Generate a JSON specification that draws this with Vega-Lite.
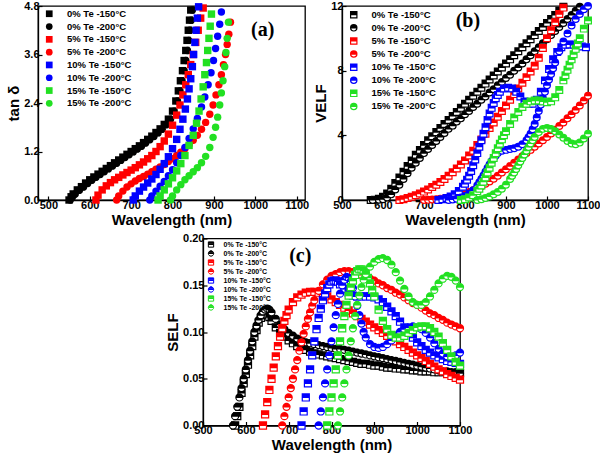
{
"$schema":"https://vega.github.io/schema/vega-lite/v6.json",
"autosize":{"type":"none"},
"padding":{"left":38,"top":6,"right":562,"bottom":448},
"background":"white",
"config":{
 "font":"Liberation Sans",
 "view":{"stroke":"#000","strokeWidth":1.3},
 "axis":{"grid":false,"labelFont":"Liberation Sans","labelFontWeight":"bold","labelFontSize":11,"labelColor":"#000","labelFlush":false,"labelOverlap":false,"titleFont":"Liberation Sans","titleFontWeight":"bold","titleFontSize":15,"titleColor":"#000","domainColor":"#000","domainWidth":1.3,"tickColor":"#000","tickWidth":1.2,"tickSize":-4,"labelPadding":3,"titlePadding":2},
 "legend":{"labelFont":"Liberation Sans","labelFontWeight":"bold","labelColor":"#000","padding":0,"orient":"none"}
},
"datasets":{
"a":[
{"s":0,"x":550,"y":0},{"s":0,"x":555,"y":0.08},{"s":0,"x":560,"y":0.15},{"s":0,"x":570,"y":0.25},{"s":0,"x":580,"y":0.33},{"s":0,"x":590,"y":0.42},{"s":0,"x":600,"y":0.5},{"s":0,"x":610,"y":0.57},{"s":0,"x":620,"y":0.64},{"s":0,"x":630,"y":0.71},{"s":0,"x":640,"y":0.78},{"s":0,"x":650,"y":0.85},{"s":0,"x":660,"y":0.92},{"s":0,"x":670,"y":0.99},{"s":0,"x":680,"y":1.06},{"s":0,"x":690,"y":1.13},{"s":0,"x":700,"y":1.2},{"s":0,"x":710,"y":1.27},{"s":0,"x":720,"y":1.34},{"s":0,"x":730,"y":1.42},{"s":0,"x":740,"y":1.5},{"s":0,"x":750,"y":1.58},{"s":0,"x":760,"y":1.67},{"s":0,"x":770,"y":1.76},{"s":0,"x":780,"y":1.87},{"s":0,"x":790,"y":2.0},{"s":0,"x":800,"y":2.2},{"s":0,"x":808,"y":2.45},{"s":0,"x":814,"y":2.7},{"s":0,"x":819,"y":2.95},{"s":0,"x":824,"y":3.2},{"s":0,"x":828,"y":3.45},{"s":0,"x":832,"y":3.7},{"s":0,"x":835,"y":3.95},{"s":0,"x":838,"y":4.2},{"s":0,"x":841,"y":4.45},{"s":0,"x":844,"y":4.7},
{"s":1,"x":553,"y":0},{"s":1,"x":558,"y":0.07},{"s":1,"x":565,"y":0.15},{"s":1,"x":575,"y":0.24},{"s":1,"x":585,"y":0.32},{"s":1,"x":595,"y":0.41},{"s":1,"x":605,"y":0.49},{"s":1,"x":615,"y":0.56},{"s":1,"x":625,"y":0.63},{"s":1,"x":635,"y":0.7},{"s":1,"x":645,"y":0.77},{"s":1,"x":655,"y":0.84},{"s":1,"x":665,"y":0.91},{"s":1,"x":675,"y":0.98},{"s":1,"x":685,"y":1.05},{"s":1,"x":695,"y":1.12},{"s":1,"x":705,"y":1.19},{"s":1,"x":715,"y":1.26},{"s":1,"x":725,"y":1.33},{"s":1,"x":735,"y":1.41},{"s":1,"x":745,"y":1.49},{"s":1,"x":755,"y":1.57},{"s":1,"x":765,"y":1.66},{"s":1,"x":775,"y":1.75},{"s":1,"x":785,"y":1.86},{"s":1,"x":795,"y":2.0},{"s":1,"x":804,"y":2.2},{"s":1,"x":812,"y":2.45},{"s":1,"x":818,"y":2.7},{"s":1,"x":823,"y":2.95},{"s":1,"x":828,"y":3.2},{"s":1,"x":832,"y":3.45},{"s":1,"x":836,"y":3.7},{"s":1,"x":839,"y":3.95},{"s":1,"x":842,"y":4.2},{"s":1,"x":845,"y":4.45},{"s":1,"x":848,"y":4.7},
{"s":2,"x":615,"y":0},{"s":2,"x":620,"y":0.12},{"s":2,"x":630,"y":0.25},{"s":2,"x":640,"y":0.35},{"s":2,"x":650,"y":0.43},{"s":2,"x":660,"y":0.5},{"s":2,"x":670,"y":0.56},{"s":2,"x":680,"y":0.62},{"s":2,"x":690,"y":0.68},{"s":2,"x":700,"y":0.74},{"s":2,"x":710,"y":0.8},{"s":2,"x":720,"y":0.87},{"s":2,"x":730,"y":0.94},{"s":2,"x":740,"y":1.02},{"s":2,"x":750,"y":1.1},{"s":2,"x":760,"y":1.2},{"s":2,"x":770,"y":1.32},{"s":2,"x":780,"y":1.46},{"s":2,"x":790,"y":1.63},{"s":2,"x":800,"y":1.85},{"s":2,"x":810,"y":2.1},{"s":2,"x":818,"y":2.35},{"s":2,"x":825,"y":2.6},{"s":2,"x":832,"y":2.85},{"s":2,"x":838,"y":3.1},{"s":2,"x":844,"y":3.35},{"s":2,"x":850,"y":3.6},{"s":2,"x":856,"y":3.9},{"s":2,"x":862,"y":4.2},{"s":2,"x":868,"y":4.5},{"s":2,"x":874,"y":4.75},
{"s":3,"x":665,"y":0},{"s":3,"x":670,"y":0.1},{"s":3,"x":680,"y":0.22},{"s":3,"x":690,"y":0.32},{"s":3,"x":700,"y":0.4},{"s":3,"x":710,"y":0.47},{"s":3,"x":720,"y":0.53},{"s":3,"x":730,"y":0.58},{"s":3,"x":740,"y":0.64},{"s":3,"x":750,"y":0.7},{"s":3,"x":760,"y":0.76},{"s":3,"x":770,"y":0.82},{"s":3,"x":780,"y":0.88},{"s":3,"x":790,"y":0.95},{"s":3,"x":800,"y":1.02},{"s":3,"x":810,"y":1.1},{"s":3,"x":820,"y":1.18},{"s":3,"x":830,"y":1.27},{"s":3,"x":840,"y":1.37},{"s":3,"x":850,"y":1.48},{"s":3,"x":860,"y":1.6},{"s":3,"x":870,"y":1.75},{"s":3,"x":880,"y":1.92},{"s":3,"x":890,"y":2.12},{"s":3,"x":898,"y":2.35},{"s":3,"x":905,"y":2.6},{"s":3,"x":912,"y":2.85},{"s":3,"x":918,"y":3.1},{"s":3,"x":923,"y":3.35},{"s":3,"x":928,"y":3.6},{"s":3,"x":932,"y":3.85},{"s":3,"x":936,"y":4.1},{"s":3,"x":940,"y":4.4},
{"s":4,"x":705,"y":0},{"s":4,"x":710,"y":0.1},{"s":4,"x":720,"y":0.22},{"s":4,"x":730,"y":0.32},{"s":4,"x":740,"y":0.42},{"s":4,"x":750,"y":0.52},{"s":4,"x":760,"y":0.63},{"s":4,"x":770,"y":0.76},{"s":4,"x":780,"y":0.9},{"s":4,"x":790,"y":1.07},{"s":4,"x":800,"y":1.27},{"s":4,"x":810,"y":1.5},{"s":4,"x":818,"y":1.75},{"s":4,"x":825,"y":2.0},{"s":4,"x":831,"y":2.25},{"s":4,"x":836,"y":2.5},{"s":4,"x":840,"y":2.75},{"s":4,"x":844,"y":3.0},{"s":4,"x":848,"y":3.3},{"s":4,"x":851,"y":3.6},{"s":4,"x":854,"y":3.9},{"s":4,"x":857,"y":4.2},{"s":4,"x":860,"y":4.5},{"s":4,"x":863,"y":4.78},
{"s":5,"x":745,"y":0},{"s":5,"x":750,"y":0.1},{"s":5,"x":760,"y":0.22},{"s":5,"x":770,"y":0.34},{"s":5,"x":780,"y":0.46},{"s":5,"x":790,"y":0.6},{"s":5,"x":800,"y":0.75},{"s":5,"x":810,"y":0.92},{"s":5,"x":820,"y":1.1},{"s":5,"x":830,"y":1.3},{"s":5,"x":840,"y":1.52},{"s":5,"x":850,"y":1.76},{"s":5,"x":860,"y":2.02},{"s":5,"x":870,"y":2.3},{"s":5,"x":878,"y":2.55},{"s":5,"x":886,"y":2.85},{"s":5,"x":893,"y":3.15},{"s":5,"x":899,"y":3.45},{"s":5,"x":904,"y":3.75},{"s":5,"x":909,"y":4.05},{"s":5,"x":914,"y":4.35},{"s":5,"x":918,"y":4.65},
{"s":6,"x":765,"y":0},{"s":6,"x":770,"y":0.1},{"s":6,"x":780,"y":0.25},{"s":6,"x":790,"y":0.4},{"s":6,"x":800,"y":0.55},{"s":6,"x":810,"y":0.72},{"s":6,"x":820,"y":0.9},{"s":6,"x":830,"y":1.1},{"s":6,"x":840,"y":1.35},{"s":6,"x":850,"y":1.6},{"s":6,"x":858,"y":1.9},{"s":6,"x":864,"y":2.2},{"s":6,"x":869,"y":2.5},{"s":6,"x":874,"y":2.8},{"s":6,"x":878,"y":3.1},{"s":6,"x":882,"y":3.4},{"s":6,"x":885,"y":3.7},{"s":6,"x":888,"y":4.0},{"s":6,"x":891,"y":4.3},{"s":6,"x":894,"y":4.6},
{"s":7,"x":795,"y":0},{"s":7,"x":800,"y":0.1},{"s":7,"x":810,"y":0.25},{"s":7,"x":820,"y":0.38},{"s":7,"x":830,"y":0.5},{"s":7,"x":840,"y":0.6},{"s":7,"x":850,"y":0.7},{"s":7,"x":860,"y":0.8},{"s":7,"x":870,"y":0.92},{"s":7,"x":880,"y":1.08},{"s":7,"x":890,"y":1.3},{"s":7,"x":898,"y":1.55},{"s":7,"x":904,"y":1.8},{"s":7,"x":909,"y":2.05},{"s":7,"x":914,"y":2.35},{"s":7,"x":918,"y":2.65},{"s":7,"x":922,"y":2.95},{"s":7,"x":926,"y":3.3},{"s":7,"x":929,"y":3.65},{"s":7,"x":932,"y":4.0},{"s":7,"x":935,"y":4.4}
],
"b":[
{"s":0,"x":570,"y":0},{"s":0,"x":580,"y":0.02},{"s":0,"x":590,"y":0.08},{"s":0,"x":600,"y":0.2},{"s":0,"x":610,"y":0.4},{"s":0,"x":620,"y":0.7},{"s":0,"x":630,"y":1.05},{"s":0,"x":640,"y":1.4},{"s":0,"x":650,"y":1.75},{"s":0,"x":660,"y":2.1},{"s":0,"x":670,"y":2.45},{"s":0,"x":680,"y":2.8},{"s":0,"x":690,"y":3.1},{"s":0,"x":700,"y":3.4},{"s":0,"x":710,"y":3.7},{"s":0,"x":720,"y":3.95},{"s":0,"x":730,"y":4.2},{"s":0,"x":740,"y":4.45},{"s":0,"x":750,"y":4.7},{"s":0,"x":760,"y":4.95},{"s":0,"x":770,"y":5.2},{"s":0,"x":780,"y":5.45},{"s":0,"x":790,"y":5.7},{"s":0,"x":800,"y":5.95},{"s":0,"x":810,"y":6.2},{"s":0,"x":820,"y":6.45},{"s":0,"x":830,"y":6.7},{"s":0,"x":840,"y":6.95},{"s":0,"x":850,"y":7.2},{"s":0,"x":860,"y":7.45},{"s":0,"x":870,"y":7.7},{"s":0,"x":880,"y":7.95},{"s":0,"x":890,"y":8.2},{"s":0,"x":900,"y":8.45},{"s":0,"x":910,"y":8.7},{"s":0,"x":920,"y":8.95},{"s":0,"x":930,"y":9.2},{"s":0,"x":940,"y":9.45},{"s":0,"x":950,"y":9.7},{"s":0,"x":960,"y":9.95},{"s":0,"x":970,"y":10.2},{"s":0,"x":980,"y":10.45},{"s":0,"x":990,"y":10.7},{"s":0,"x":1000,"y":10.95},{"s":0,"x":1010,"y":11.2},{"s":0,"x":1020,"y":11.45},{"s":0,"x":1030,"y":11.7},{"s":0,"x":1040,"y":11.95},
{"s":1,"x":575,"y":0},{"s":1,"x":590,"y":0.02},{"s":1,"x":600,"y":0.05},{"s":1,"x":610,"y":0.15},{"s":1,"x":620,"y":0.35},{"s":1,"x":630,"y":0.65},{"s":1,"x":640,"y":0.95},{"s":1,"x":650,"y":1.3},{"s":1,"x":660,"y":1.65},{"s":1,"x":670,"y":2.0},{"s":1,"x":680,"y":2.3},{"s":1,"x":690,"y":2.6},{"s":1,"x":700,"y":2.9},{"s":1,"x":710,"y":3.15},{"s":1,"x":720,"y":3.4},{"s":1,"x":730,"y":3.65},{"s":1,"x":740,"y":3.9},{"s":1,"x":750,"y":4.15},{"s":1,"x":760,"y":4.4},{"s":1,"x":770,"y":4.6},{"s":1,"x":780,"y":4.85},{"s":1,"x":790,"y":5.05},{"s":1,"x":800,"y":5.3},{"s":1,"x":810,"y":5.5},{"s":1,"x":820,"y":5.75},{"s":1,"x":830,"y":5.95},{"s":1,"x":840,"y":6.2},{"s":1,"x":850,"y":6.4},{"s":1,"x":860,"y":6.65},{"s":1,"x":870,"y":6.85},{"s":1,"x":880,"y":7.1},{"s":1,"x":890,"y":7.3},{"s":1,"x":900,"y":7.55},{"s":1,"x":910,"y":7.75},{"s":1,"x":920,"y":8.0},{"s":1,"x":930,"y":8.2},{"s":1,"x":940,"y":8.45},{"s":1,"x":950,"y":8.7},{"s":1,"x":960,"y":8.95},{"s":1,"x":970,"y":9.2},{"s":1,"x":980,"y":9.45},{"s":1,"x":990,"y":9.7},{"s":1,"x":1000,"y":9.95},{"s":1,"x":1010,"y":10.2},{"s":1,"x":1020,"y":10.45},{"s":1,"x":1030,"y":10.7},{"s":1,"x":1040,"y":10.95},{"s":1,"x":1050,"y":11.2},{"s":1,"x":1060,"y":11.45},{"s":1,"x":1070,"y":11.7},{"s":1,"x":1080,"y":11.95},
{"s":2,"x":640,"y":0},{"s":2,"x":650,"y":0.05},{"s":2,"x":660,"y":0.12},{"s":2,"x":670,"y":0.2},{"s":2,"x":680,"y":0.3},{"s":2,"x":690,"y":0.4},{"s":2,"x":700,"y":0.52},{"s":2,"x":710,"y":0.65},{"s":2,"x":720,"y":0.8},{"s":2,"x":730,"y":0.95},{"s":2,"x":740,"y":1.12},{"s":2,"x":750,"y":1.3},{"s":2,"x":760,"y":1.5},{"s":2,"x":770,"y":1.72},{"s":2,"x":780,"y":1.95},{"s":2,"x":790,"y":2.2},{"s":2,"x":800,"y":2.45},{"s":2,"x":810,"y":2.75},{"s":2,"x":820,"y":3.05},{"s":2,"x":830,"y":3.4},{"s":2,"x":840,"y":3.75},{"s":2,"x":850,"y":4.1},{"s":2,"x":860,"y":4.45},{"s":2,"x":870,"y":4.8},{"s":2,"x":880,"y":5.15},{"s":2,"x":890,"y":5.5},{"s":2,"x":900,"y":5.85},{"s":2,"x":910,"y":6.2},{"s":2,"x":920,"y":6.55},{"s":2,"x":930,"y":6.9},{"s":2,"x":940,"y":7.25},{"s":2,"x":950,"y":7.6},{"s":2,"x":960,"y":7.95},{"s":2,"x":970,"y":8.3},{"s":2,"x":980,"y":8.8},{"s":2,"x":990,"y":9.4},{"s":2,"x":1000,"y":10.0},{"s":2,"x":1010,"y":10.5},{"s":2,"x":1020,"y":11.0},{"s":2,"x":1030,"y":11.5},{"s":2,"x":1040,"y":11.9},
{"s":3,"x":700,"y":0},{"s":3,"x":710,"y":0.01},{"s":3,"x":720,"y":0.03},{"s":3,"x":730,"y":0.05},{"s":3,"x":740,"y":0.08},{"s":3,"x":750,"y":0.11},{"s":3,"x":760,"y":0.15},{"s":3,"x":770,"y":0.2},{"s":3,"x":780,"y":0.25},{"s":3,"x":790,"y":0.32},{"s":3,"x":800,"y":0.4},{"s":3,"x":810,"y":0.5},{"s":3,"x":820,"y":0.6},{"s":3,"x":830,"y":0.72},{"s":3,"x":840,"y":0.85},{"s":3,"x":850,"y":1.0},{"s":3,"x":860,"y":1.15},{"s":3,"x":870,"y":1.32},{"s":3,"x":880,"y":1.5},{"s":3,"x":890,"y":1.7},{"s":3,"x":900,"y":1.9},{"s":3,"x":910,"y":2.1},{"s":3,"x":920,"y":2.3},{"s":3,"x":930,"y":2.5},{"s":3,"x":940,"y":2.7},{"s":3,"x":950,"y":2.9},{"s":3,"x":960,"y":3.1},{"s":3,"x":970,"y":3.3},{"s":3,"x":980,"y":3.5},{"s":3,"x":990,"y":3.7},{"s":3,"x":1000,"y":3.9},{"s":3,"x":1010,"y":4.12},{"s":3,"x":1020,"y":4.35},{"s":3,"x":1030,"y":4.58},{"s":3,"x":1040,"y":4.8},{"s":3,"x":1050,"y":5.05},{"s":3,"x":1060,"y":5.3},{"s":3,"x":1070,"y":5.57},{"s":3,"x":1080,"y":5.85},{"s":3,"x":1090,"y":6.15},{"s":3,"x":1100,"y":6.45},
{"s":4,"x":735,"y":0},{"s":4,"x":745,"y":0.05},{"s":4,"x":755,"y":0.12},{"s":4,"x":765,"y":0.22},{"s":4,"x":775,"y":0.36},{"s":4,"x":785,"y":0.55},{"s":4,"x":795,"y":0.82},{"s":4,"x":800,"y":1.0},{"s":4,"x":805,"y":1.25},{"s":4,"x":810,"y":1.5},{"s":4,"x":815,"y":1.8},{"s":4,"x":820,"y":2.15},{"s":4,"x":825,"y":2.5},{"s":4,"x":830,"y":2.9},{"s":4,"x":835,"y":3.3},{"s":4,"x":840,"y":3.7},{"s":4,"x":845,"y":4.1},{"s":4,"x":850,"y":4.5},{"s":4,"x":855,"y":4.95},{"s":4,"x":860,"y":5.35},{"s":4,"x":865,"y":5.7},{"s":4,"x":870,"y":6.0},{"s":4,"x":875,"y":6.3},{"s":4,"x":880,"y":6.5},{"s":4,"x":885,"y":6.7},{"s":4,"x":895,"y":6.9},{"s":4,"x":905,"y":6.95},{"s":4,"x":915,"y":6.9},{"s":4,"x":925,"y":6.7},{"s":4,"x":935,"y":6.4},{"s":4,"x":945,"y":6.1},{"s":4,"x":955,"y":5.95},{"s":4,"x":965,"y":5.95},{"s":4,"x":975,"y":6.2},{"s":4,"x":985,"y":6.7},{"s":4,"x":995,"y":7.4},{"s":4,"x":1005,"y":8.1},{"s":4,"x":1015,"y":8.7},{"s":4,"x":1025,"y":9.15},{"s":4,"x":1035,"y":9.45},{"s":4,"x":1045,"y":9.6},{"s":4,"x":1055,"y":9.62},{"s":4,"x":1065,"y":9.6},{"s":4,"x":1075,"y":9.55},{"s":4,"x":1085,"y":9.5},{"s":4,"x":1095,"y":9.45},
{"s":5,"x":760,"y":0},{"s":5,"x":770,"y":0.03},{"s":5,"x":780,"y":0.08},{"s":5,"x":790,"y":0.15},{"s":5,"x":800,"y":0.25},{"s":5,"x":810,"y":0.4},{"s":5,"x":820,"y":0.6},{"s":5,"x":830,"y":0.9},{"s":5,"x":835,"y":1.1},{"s":5,"x":840,"y":1.3},{"s":5,"x":845,"y":1.52},{"s":5,"x":850,"y":1.75},{"s":5,"x":855,"y":1.98},{"s":5,"x":860,"y":2.2},{"s":5,"x":865,"y":2.4},{"s":5,"x":870,"y":2.6},{"s":5,"x":875,"y":2.76},{"s":5,"x":880,"y":2.9},{"s":5,"x":890,"y":3.05},{"s":5,"x":900,"y":3.1},{"s":5,"x":910,"y":3.15},{"s":5,"x":920,"y":3.2},{"s":5,"x":930,"y":3.3},{"s":5,"x":940,"y":3.45},{"s":5,"x":950,"y":3.7},{"s":5,"x":955,"y":3.88},{"s":5,"x":960,"y":4.1},{"s":5,"x":965,"y":4.38},{"s":5,"x":970,"y":4.7},{"s":5,"x":975,"y":5.1},{"s":5,"x":980,"y":5.5},{"s":5,"x":985,"y":5.9},{"s":5,"x":990,"y":6.3},{"s":5,"x":995,"y":6.7},{"s":5,"x":1000,"y":7.1},{"s":5,"x":1005,"y":7.45},{"s":5,"x":1010,"y":7.8},{"s":5,"x":1015,"y":8.15},{"s":5,"x":1020,"y":8.5},{"s":5,"x":1030,"y":9.2},{"s":5,"x":1040,"y":9.8},{"s":5,"x":1050,"y":10.3},{"s":5,"x":1060,"y":10.8},{"s":5,"x":1070,"y":11.2},{"s":5,"x":1080,"y":11.5},{"s":5,"x":1090,"y":11.8},{"s":5,"x":1100,"y":12.0},
{"s":6,"x":790,"y":0},{"s":6,"x":800,"y":0.05},{"s":6,"x":810,"y":0.15},{"s":6,"x":820,"y":0.3},{"s":6,"x":830,"y":0.55},{"s":6,"x":835,"y":0.7},{"s":6,"x":840,"y":0.9},{"s":6,"x":845,"y":1.13},{"s":6,"x":850,"y":1.4},{"s":6,"x":855,"y":1.7},{"s":6,"x":860,"y":2.0},{"s":6,"x":865,"y":2.3},{"s":6,"x":870,"y":2.6},{"s":6,"x":875,"y":2.9},{"s":6,"x":880,"y":3.2},{"s":6,"x":885,"y":3.48},{"s":6,"x":890,"y":3.75},{"s":6,"x":895,"y":4.0},{"s":6,"x":900,"y":4.25},{"s":6,"x":910,"y":4.7},{"s":6,"x":920,"y":5.1},{"s":6,"x":930,"y":5.45},{"s":6,"x":940,"y":5.75},{"s":6,"x":950,"y":5.95},{"s":6,"x":960,"y":6.1},{"s":6,"x":970,"y":6.15},{"s":6,"x":980,"y":6.15},{"s":6,"x":990,"y":6.1},{"s":6,"x":1000,"y":6.05},{"s":6,"x":1010,"y":6.1},{"s":6,"x":1020,"y":6.35},{"s":6,"x":1030,"y":6.8},{"s":6,"x":1040,"y":7.4},{"s":6,"x":1045,"y":7.72},{"s":6,"x":1050,"y":8.05},{"s":6,"x":1055,"y":8.37},{"s":6,"x":1060,"y":8.7},{"s":6,"x":1065,"y":9.02},{"s":6,"x":1070,"y":9.35},{"s":6,"x":1075,"y":9.68},{"s":6,"x":1080,"y":10.0},{"s":6,"x":1090,"y":10.6},{"s":6,"x":1100,"y":11.1},
{"s":7,"x":830,"y":0},{"s":7,"x":840,"y":0.05},{"s":7,"x":850,"y":0.12},{"s":7,"x":860,"y":0.22},{"s":7,"x":870,"y":0.35},{"s":7,"x":880,"y":0.5},{"s":7,"x":890,"y":0.7},{"s":7,"x":900,"y":0.95},{"s":7,"x":910,"y":1.3},{"s":7,"x":915,"y":1.5},{"s":7,"x":920,"y":1.7},{"s":7,"x":925,"y":1.92},{"s":7,"x":930,"y":2.15},{"s":7,"x":935,"y":2.38},{"s":7,"x":940,"y":2.6},{"s":7,"x":945,"y":2.82},{"s":7,"x":950,"y":3.05},{"s":7,"x":955,"y":3.28},{"s":7,"x":960,"y":3.5},{"s":7,"x":965,"y":3.7},{"s":7,"x":970,"y":3.9},{"s":7,"x":980,"y":4.2},{"s":7,"x":990,"y":4.4},{"s":7,"x":1000,"y":4.45},{"s":7,"x":1010,"y":4.4},{"s":7,"x":1020,"y":4.25},{"s":7,"x":1030,"y":4.05},{"s":7,"x":1040,"y":3.85},{"s":7,"x":1050,"y":3.65},{"s":7,"x":1060,"y":3.5},{"s":7,"x":1070,"y":3.45},{"s":7,"x":1080,"y":3.55},{"s":7,"x":1090,"y":3.8},{"s":7,"x":1100,"y":4.1}
],
"c":[
{"s":0,"x":575,"y":0},{"s":0,"x":580,"y":0.01},{"s":0,"x":585,"y":0.02},{"s":0,"x":590,"y":0.035},{"s":0,"x":595,"y":0.045},{"s":0,"x":600,"y":0.055},{"s":0,"x":605,"y":0.065},{"s":0,"x":610,"y":0.075},{"s":0,"x":615,"y":0.085},{"s":0,"x":620,"y":0.095},{"s":0,"x":625,"y":0.102},{"s":0,"x":630,"y":0.11},{"s":0,"x":635,"y":0.115},{"s":0,"x":640,"y":0.118},{"s":0,"x":645,"y":0.12},{"s":0,"x":650,"y":0.119},{"s":0,"x":655,"y":0.116},{"s":0,"x":660,"y":0.112},{"s":0,"x":670,"y":0.105},{"s":0,"x":680,"y":0.099},{"s":0,"x":690,"y":0.095},{"s":0,"x":700,"y":0.091},{"s":0,"x":710,"y":0.088},{"s":0,"x":720,"y":0.085},{"s":0,"x":730,"y":0.083},{"s":0,"x":740,"y":0.081},{"s":0,"x":750,"y":0.079},{"s":0,"x":760,"y":0.077},{"s":0,"x":770,"y":0.076},{"s":0,"x":780,"y":0.075},{"s":0,"x":790,"y":0.074},{"s":0,"x":800,"y":0.073},{"s":0,"x":810,"y":0.072},{"s":0,"x":820,"y":0.071},{"s":0,"x":830,"y":0.07},{"s":0,"x":840,"y":0.069},{"s":0,"x":850,"y":0.068},{"s":0,"x":860,"y":0.067},{"s":0,"x":870,"y":0.066},{"s":0,"x":880,"y":0.066},{"s":0,"x":890,"y":0.065},{"s":0,"x":900,"y":0.064},{"s":0,"x":910,"y":0.064},{"s":0,"x":920,"y":0.063},{"s":0,"x":930,"y":0.062},{"s":0,"x":940,"y":0.062},{"s":0,"x":950,"y":0.061},{"s":0,"x":960,"y":0.061},{"s":0,"x":970,"y":0.06},{"s":0,"x":980,"y":0.06},{"s":0,"x":990,"y":0.059},{"s":0,"x":1000,"y":0.059},{"s":0,"x":1010,"y":0.058},{"s":0,"x":1020,"y":0.058},{"s":0,"x":1030,"y":0.058},{"s":0,"x":1040,"y":0.057},{"s":0,"x":1050,"y":0.057},{"s":0,"x":1060,"y":0.057},{"s":0,"x":1070,"y":0.056},{"s":0,"x":1080,"y":0.056},{"s":0,"x":1090,"y":0.056},{"s":0,"x":1100,"y":0.056},
{"s":1,"x":570,"y":0},{"s":1,"x":575,"y":0.01},{"s":1,"x":580,"y":0.02},{"s":1,"x":585,"y":0.03},{"s":1,"x":590,"y":0.04},{"s":1,"x":595,"y":0.05},{"s":1,"x":600,"y":0.06},{"s":1,"x":605,"y":0.07},{"s":1,"x":610,"y":0.08},{"s":1,"x":615,"y":0.09},{"s":1,"x":620,"y":0.1},{"s":1,"x":625,"y":0.107},{"s":1,"x":630,"y":0.113},{"s":1,"x":635,"y":0.118},{"s":1,"x":640,"y":0.122},{"s":1,"x":645,"y":0.124},{"s":1,"x":650,"y":0.125},{"s":1,"x":655,"y":0.124},{"s":1,"x":660,"y":0.121},{"s":1,"x":670,"y":0.114},{"s":1,"x":680,"y":0.108},{"s":1,"x":690,"y":0.103},{"s":1,"x":700,"y":0.099},{"s":1,"x":710,"y":0.096},{"s":1,"x":720,"y":0.093},{"s":1,"x":730,"y":0.091},{"s":1,"x":740,"y":0.089},{"s":1,"x":750,"y":0.088},{"s":1,"x":760,"y":0.087},{"s":1,"x":770,"y":0.086},{"s":1,"x":780,"y":0.085},{"s":1,"x":790,"y":0.084},{"s":1,"x":800,"y":0.083},{"s":1,"x":810,"y":0.082},{"s":1,"x":820,"y":0.082},{"s":1,"x":830,"y":0.081},{"s":1,"x":840,"y":0.08},{"s":1,"x":850,"y":0.079},{"s":1,"x":860,"y":0.078},{"s":1,"x":870,"y":0.077},{"s":1,"x":880,"y":0.076},{"s":1,"x":890,"y":0.075},{"s":1,"x":900,"y":0.074},{"s":1,"x":910,"y":0.073},{"s":1,"x":920,"y":0.072},{"s":1,"x":930,"y":0.071},{"s":1,"x":940,"y":0.07},{"s":1,"x":950,"y":0.069},{"s":1,"x":960,"y":0.068},{"s":1,"x":970,"y":0.067},{"s":1,"x":980,"y":0.066},{"s":1,"x":990,"y":0.065},{"s":1,"x":1000,"y":0.064},{"s":1,"x":1010,"y":0.063},{"s":1,"x":1020,"y":0.062},{"s":1,"x":1030,"y":0.061},{"s":1,"x":1040,"y":0.06},{"s":1,"x":1050,"y":0.059},{"s":1,"x":1060,"y":0.058},{"s":1,"x":1070,"y":0.058},{"s":1,"x":1080,"y":0.057},{"s":1,"x":1090,"y":0.057},{"s":1,"x":1100,"y":0.056},
{"s":2,"x":640,"y":0},{"s":2,"x":645,"y":0.012},{"s":2,"x":650,"y":0.025},{"s":2,"x":655,"y":0.038},{"s":2,"x":660,"y":0.05},{"s":2,"x":665,"y":0.062},{"s":2,"x":670,"y":0.074},{"s":2,"x":675,"y":0.085},{"s":2,"x":680,"y":0.095},{"s":2,"x":685,"y":0.104},{"s":2,"x":690,"y":0.112},{"s":2,"x":695,"y":0.118},{"s":2,"x":700,"y":0.124},{"s":2,"x":710,"y":0.132},{"s":2,"x":720,"y":0.137},{"s":2,"x":730,"y":0.14},{"s":2,"x":740,"y":0.142},{"s":2,"x":750,"y":0.143},{"s":2,"x":760,"y":0.143},{"s":2,"x":770,"y":0.142},{"s":2,"x":780,"y":0.14},{"s":2,"x":790,"y":0.138},{"s":2,"x":800,"y":0.135},{"s":2,"x":810,"y":0.132},{"s":2,"x":820,"y":0.129},{"s":2,"x":830,"y":0.126},{"s":2,"x":840,"y":0.123},{"s":2,"x":850,"y":0.12},{"s":2,"x":860,"y":0.117},{"s":2,"x":870,"y":0.114},{"s":2,"x":880,"y":0.111},{"s":2,"x":890,"y":0.108},{"s":2,"x":900,"y":0.105},{"s":2,"x":910,"y":0.102},{"s":2,"x":920,"y":0.099},{"s":2,"x":930,"y":0.096},{"s":2,"x":940,"y":0.093},{"s":2,"x":950,"y":0.09},{"s":2,"x":960,"y":0.087},{"s":2,"x":970,"y":0.084},{"s":2,"x":980,"y":0.081},{"s":2,"x":990,"y":0.078},{"s":2,"x":1000,"y":0.075},{"s":2,"x":1010,"y":0.072},{"s":2,"x":1020,"y":0.069},{"s":2,"x":1030,"y":0.066},{"s":2,"x":1040,"y":0.063},{"s":2,"x":1050,"y":0.06},{"s":2,"x":1060,"y":0.058},{"s":2,"x":1070,"y":0.055},{"s":2,"x":1080,"y":0.053},{"s":2,"x":1090,"y":0.051},{"s":2,"x":1100,"y":0.049},
{"s":3,"x":685,"y":0},{"s":3,"x":690,"y":0.01},{"s":3,"x":695,"y":0.02},{"s":3,"x":700,"y":0.03},{"s":3,"x":705,"y":0.04},{"s":3,"x":710,"y":0.05},{"s":3,"x":715,"y":0.06},{"s":3,"x":720,"y":0.07},{"s":3,"x":725,"y":0.08},{"s":3,"x":730,"y":0.089},{"s":3,"x":735,"y":0.098},{"s":3,"x":740,"y":0.106},{"s":3,"x":745,"y":0.114},{"s":3,"x":750,"y":0.121},{"s":3,"x":755,"y":0.128},{"s":3,"x":760,"y":0.134},{"s":3,"x":770,"y":0.144},{"s":3,"x":780,"y":0.151},{"s":3,"x":790,"y":0.156},{"s":3,"x":800,"y":0.16},{"s":3,"x":810,"y":0.162},{"s":3,"x":820,"y":0.164},{"s":3,"x":830,"y":0.165},{"s":3,"x":840,"y":0.165},{"s":3,"x":850,"y":0.164},{"s":3,"x":860,"y":0.163},{"s":3,"x":870,"y":0.161},{"s":3,"x":880,"y":0.159},{"s":3,"x":890,"y":0.157},{"s":3,"x":900,"y":0.155},{"s":3,"x":910,"y":0.152},{"s":3,"x":920,"y":0.15},{"s":3,"x":930,"y":0.147},{"s":3,"x":940,"y":0.145},{"s":3,"x":950,"y":0.142},{"s":3,"x":960,"y":0.14},{"s":3,"x":970,"y":0.137},{"s":3,"x":980,"y":0.134},{"s":3,"x":990,"y":0.131},{"s":3,"x":1000,"y":0.129},{"s":3,"x":1010,"y":0.126},{"s":3,"x":1020,"y":0.123},{"s":3,"x":1030,"y":0.12},{"s":3,"x":1040,"y":0.118},{"s":3,"x":1050,"y":0.115},{"s":3,"x":1060,"y":0.113},{"s":3,"x":1070,"y":0.11},{"s":3,"x":1080,"y":0.108},{"s":3,"x":1090,"y":0.106},{"s":3,"x":1100,"y":0.104},
{"s":4,"x":730,"y":0},{"s":4,"x":735,"y":0.015},{"s":4,"x":740,"y":0.03},{"s":4,"x":745,"y":0.045},{"s":4,"x":750,"y":0.06},{"s":4,"x":755,"y":0.075},{"s":4,"x":760,"y":0.09},{"s":4,"x":765,"y":0.103},{"s":4,"x":770,"y":0.115},{"s":4,"x":775,"y":0.125},{"s":4,"x":780,"y":0.134},{"s":4,"x":785,"y":0.141},{"s":4,"x":790,"y":0.147},{"s":4,"x":795,"y":0.151},{"s":4,"x":800,"y":0.154},{"s":4,"x":805,"y":0.155},{"s":4,"x":810,"y":0.155},{"s":4,"x":815,"y":0.154},{"s":4,"x":820,"y":0.151},{"s":4,"x":830,"y":0.146},{"s":4,"x":840,"y":0.142},{"s":4,"x":850,"y":0.139},{"s":4,"x":860,"y":0.138},{"s":4,"x":870,"y":0.138},{"s":4,"x":880,"y":0.138},{"s":4,"x":890,"y":0.138},{"s":4,"x":900,"y":0.137},{"s":4,"x":910,"y":0.135},{"s":4,"x":920,"y":0.132},{"s":4,"x":930,"y":0.127},{"s":4,"x":940,"y":0.122},{"s":4,"x":950,"y":0.117},{"s":4,"x":960,"y":0.111},{"s":4,"x":970,"y":0.105},{"s":4,"x":980,"y":0.099},{"s":4,"x":990,"y":0.094},{"s":4,"x":1000,"y":0.089},{"s":4,"x":1010,"y":0.085},{"s":4,"x":1020,"y":0.081},{"s":4,"x":1030,"y":0.078},{"s":4,"x":1040,"y":0.075},{"s":4,"x":1050,"y":0.073},{"s":4,"x":1060,"y":0.071},{"s":4,"x":1070,"y":0.069},{"s":4,"x":1080,"y":0.068},{"s":4,"x":1090,"y":0.067},{"s":4,"x":1100,"y":0.066},
{"s":5,"x":770,"y":0},{"s":5,"x":775,"y":0.015},{"s":5,"x":780,"y":0.03},{"s":5,"x":785,"y":0.045},{"s":5,"x":790,"y":0.06},{"s":5,"x":795,"y":0.075},{"s":5,"x":800,"y":0.09},{"s":5,"x":805,"y":0.105},{"s":5,"x":810,"y":0.118},{"s":5,"x":815,"y":0.13},{"s":5,"x":820,"y":0.141},{"s":5,"x":825,"y":0.15},{"s":5,"x":830,"y":0.156},{"s":5,"x":835,"y":0.159},{"s":5,"x":840,"y":0.158},{"s":5,"x":845,"y":0.154},{"s":5,"x":850,"y":0.147},{"s":5,"x":855,"y":0.138},{"s":5,"x":860,"y":0.128},{"s":5,"x":865,"y":0.118},{"s":5,"x":870,"y":0.109},{"s":5,"x":875,"y":0.1},{"s":5,"x":880,"y":0.094},{"s":5,"x":890,"y":0.087},{"s":5,"x":900,"y":0.084},{"s":5,"x":910,"y":0.083},{"s":5,"x":920,"y":0.084},{"s":5,"x":930,"y":0.087},{"s":5,"x":940,"y":0.091},{"s":5,"x":950,"y":0.096},{"s":5,"x":960,"y":0.1},{"s":5,"x":970,"y":0.103},{"s":5,"x":980,"y":0.105},{"s":5,"x":990,"y":0.106},{"s":5,"x":1000,"y":0.105},{"s":5,"x":1010,"y":0.103},{"s":5,"x":1020,"y":0.099},{"s":5,"x":1030,"y":0.094},{"s":5,"x":1040,"y":0.088},{"s":5,"x":1050,"y":0.082},{"s":5,"x":1060,"y":0.077},{"s":5,"x":1070,"y":0.074},{"s":5,"x":1080,"y":0.073},{"s":5,"x":1090,"y":0.075},{"s":5,"x":1100,"y":0.078},
{"s":6,"x":790,"y":0},{"s":6,"x":795,"y":0.015},{"s":6,"x":800,"y":0.03},{"s":6,"x":805,"y":0.045},{"s":6,"x":810,"y":0.06},{"s":6,"x":815,"y":0.075},{"s":6,"x":820,"y":0.09},{"s":6,"x":825,"y":0.104},{"s":6,"x":830,"y":0.117},{"s":6,"x":835,"y":0.129},{"s":6,"x":840,"y":0.139},{"s":6,"x":845,"y":0.148},{"s":6,"x":850,"y":0.155},{"s":6,"x":855,"y":0.161},{"s":6,"x":860,"y":0.165},{"s":6,"x":865,"y":0.167},{"s":6,"x":870,"y":0.167},{"s":6,"x":875,"y":0.166},{"s":6,"x":880,"y":0.163},{"s":6,"x":885,"y":0.158},{"s":6,"x":890,"y":0.152},{"s":6,"x":895,"y":0.145},{"s":6,"x":900,"y":0.138},{"s":6,"x":910,"y":0.124},{"s":6,"x":920,"y":0.112},{"s":6,"x":930,"y":0.103},{"s":6,"x":940,"y":0.097},{"s":6,"x":950,"y":0.094},{"s":6,"x":960,"y":0.094},{"s":6,"x":970,"y":0.096},{"s":6,"x":980,"y":0.099},{"s":6,"x":990,"y":0.102},{"s":6,"x":1000,"y":0.105},{"s":6,"x":1010,"y":0.106},{"s":6,"x":1020,"y":0.106},{"s":6,"x":1030,"y":0.104},{"s":6,"x":1040,"y":0.1},{"s":6,"x":1050,"y":0.095},{"s":6,"x":1060,"y":0.088},{"s":6,"x":1070,"y":0.081},{"s":6,"x":1080,"y":0.074},{"s":6,"x":1090,"y":0.068},{"s":6,"x":1100,"y":0.064},
{"s":7,"x":815,"y":0},{"s":7,"x":820,"y":0.015},{"s":7,"x":825,"y":0.03},{"s":7,"x":830,"y":0.045},{"s":7,"x":835,"y":0.06},{"s":7,"x":840,"y":0.075},{"s":7,"x":845,"y":0.09},{"s":7,"x":850,"y":0.104},{"s":7,"x":855,"y":0.117},{"s":7,"x":860,"y":0.129},{"s":7,"x":865,"y":0.139},{"s":7,"x":870,"y":0.148},{"s":7,"x":875,"y":0.156},{"s":7,"x":880,"y":0.162},{"s":7,"x":890,"y":0.17},{"s":7,"x":900,"y":0.175},{"s":7,"x":910,"y":0.178},{"s":7,"x":920,"y":0.179},{"s":7,"x":930,"y":0.177},{"s":7,"x":940,"y":0.172},{"s":7,"x":950,"y":0.164},{"s":7,"x":960,"y":0.155},{"s":7,"x":970,"y":0.146},{"s":7,"x":980,"y":0.138},{"s":7,"x":990,"y":0.132},{"s":7,"x":1000,"y":0.129},{"s":7,"x":1010,"y":0.129},{"s":7,"x":1020,"y":0.132},{"s":7,"x":1030,"y":0.138},{"s":7,"x":1040,"y":0.145},{"s":7,"x":1050,"y":0.152},{"s":7,"x":1060,"y":0.157},{"s":7,"x":1070,"y":0.16},{"s":7,"x":1080,"y":0.159},{"s":7,"x":1090,"y":0.155},{"s":7,"x":1100,"y":0.148}
]
},
"spacing":3.5,
"bounds":"full",
"resolve":{"scale":{"color":"independent","shape":"independent"},"legend":{"color":"independent","shape":"independent"}},
"vconcat":[
{"hconcat":[
{"width":267,"height":194,"data":{"name":"a"},
 "layer":[
 {"mark":{"type":"point","filled":true,"opacity":1,"size":55},
  "encoding":{
   "x":{"field":"x","type":"quantitative","scale":{"domain":[475,1120],"nice":false,"zero":false},"axis":{"title":"Wavelength (nm)","values":[500,600,700,800,900,1000,1100],"format":"d"}},
   "y":{"field":"y","type":"quantitative","scale":{"domain":[0,4.8],"nice":false},"axis":{"title":"tan δ","values":[0,0.6,1.2,1.8,2.4,3.0,3.6,4.2,4.8],"format":".1f"}},
   "color":{"field":"s","type":"nominal","scale":{"range":["#000000","#000000","#ff0000","#ff0000","#0000ff","#0000ff","#22e022","#22e022"]},"legend":{"title":null,"legendX":6.5,"legendY":3,"labelFontSize":9.5,"symbolSize":45,"rowPadding":1.8,"labelOffset":13,"labelExpr":"['0% Te -150°C','0% Te -200°C','5% Te -150°C','5% Te -200°C','10% Te -150°C','10% Te -200°C','15% Te -150°C','15% Te -200°C'][datum.value]","encode":{"symbols":{"update":{"shape":{"signal":"datum.value % 2 == 0 ? 'square' : 'circle'"}}}}}},
   "shape":{"field":"s","type":"nominal","scale":{"range":["square","circle","square","circle","square","circle","square","circle"]},"legend":null}
  }},
 {"data":{"values":[{"x":1018,"y":4.2,"t":"(a)"}]},"mark":{"type":"text","font":"Liberation Serif","fontWeight":"bold","fontSize":20,"color":"#000"},
  "encoding":{"x":{"field":"x","type":"quantitative"},"y":{"field":"y","type":"quantitative"},"text":{"field":"t"}}}
 ]},
{"width":246,"height":194,"data":{"name":"b"},
 "layer":[
 {"mark":{"type":"point","filled":false,"fill":"white","strokeWidth":1.2,"opacity":1,"size":46},
  "encoding":{
   "x":{"field":"x","type":"quantitative","scale":{"domain":[500,1100],"nice":false,"zero":false},"axis":{"title":"Wavelength (nm)","values":[500,600,700,800,900,1000,1100],"format":"d"}},
   "y":{"field":"y","type":"quantitative","scale":{"domain":[0,12],"nice":false},"axis":{"title":"VELF","values":[0,2,4,6,8,10,12]}},
   "color":{"field":"s","type":"nominal","scale":{"range":["#000000","#000000","#ff0000","#ff0000","#0000ff","#0000ff","#22e022","#22e022"]},"legend":{"title":null,"legendX":7,"legendY":4,"labelFontSize":9.5,"symbolSize":40,"symbolStrokeWidth":1.2,"rowPadding":1.1,"labelOffset":13,"labelExpr":"['0% Te -150°C','0% Te -200°C','5% Te -150°C','5% Te -200°C','10% Te -150°C','10% Te -200°C','15% Te -150°C','15% Te -200°C'][datum.value]","encode":{"symbols":{"update":{"fill":{"value":"white"},"shape":{"signal":"datum.value % 2 == 0 ? 'M-1,-1L1,-1L1,1L-1,1ZM-1,-0.75L1,-0.75M-1,-0.5L1,-0.5M-1,-0.25L1,-0.25M-1,0L1,0' : 'M-1,0A1,1,0,1,1,1,0A1,1,0,1,1,-1,0ZM-1,0L1,0M-0.97,-0.25L0.97,-0.25M-0.87,-0.5L0.87,-0.5M-0.66,-0.75L0.66,-0.75M-0.3,-0.95L0.3,-0.95'"}}}}}},
   "shape":{"field":"s","type":"nominal","scale":{"range":["M-1,-1L1,-1L1,1L-1,1ZM-1,-0.75L1,-0.75M-1,-0.5L1,-0.5M-1,-0.25L1,-0.25M-1,0L1,0","M-1,0A1,1,0,1,1,1,0A1,1,0,1,1,-1,0ZM-1,0L1,0M-0.97,-0.25L0.97,-0.25M-0.87,-0.5L0.87,-0.5M-0.66,-0.75L0.66,-0.75M-0.3,-0.95L0.3,-0.95","M-1,-1L1,-1L1,1L-1,1ZM-1,-0.75L1,-0.75M-1,-0.5L1,-0.5M-1,-0.25L1,-0.25M-1,0L1,0","M-1,0A1,1,0,1,1,1,0A1,1,0,1,1,-1,0ZM-1,0L1,0M-0.97,-0.25L0.97,-0.25M-0.87,-0.5L0.87,-0.5M-0.66,-0.75L0.66,-0.75M-0.3,-0.95L0.3,-0.95","M-1,-1L1,-1L1,1L-1,1ZM-1,-0.75L1,-0.75M-1,-0.5L1,-0.5M-1,-0.25L1,-0.25M-1,0L1,0","M-1,0A1,1,0,1,1,1,0A1,1,0,1,1,-1,0ZM-1,0L1,0M-0.97,-0.25L0.97,-0.25M-0.87,-0.5L0.87,-0.5M-0.66,-0.75L0.66,-0.75M-0.3,-0.95L0.3,-0.95","M-1,-1L1,-1L1,1L-1,1ZM-1,-0.75L1,-0.75M-1,-0.5L1,-0.5M-1,-0.25L1,-0.25M-1,0L1,0","M-1,0A1,1,0,1,1,1,0A1,1,0,1,1,-1,0ZM-1,0L1,0M-0.97,-0.25L0.97,-0.25M-0.87,-0.5L0.87,-0.5M-0.66,-0.75L0.66,-0.75M-0.3,-0.95L0.3,-0.95"]},"legend":null}
  }},
 {"data":{"values":[{"x":807,"y":11.05,"t":"(b)"}]},"mark":{"type":"text","font":"Liberation Serif","fontWeight":"bold","fontSize":20,"color":"#000"},
  "encoding":{"x":{"field":"x","type":"quantitative"},"y":{"field":"y","type":"quantitative"},"text":{"field":"t"}}}
 ]}
],"spacing":37,"bounds":"flush",
"resolve":{"scale":{"color":"independent","shape":"independent"},"legend":{"color":"independent","shape":"independent"}}},
{"hconcat":[
{"width":128,"height":187,"data":{"values":[]},"mark":"point","view":{"stroke":null}},
{"width":257,"height":187,"data":{"name":"c"},
 "layer":[
 {"mark":{"type":"point","filled":false,"fill":"white","strokeWidth":1.2,"opacity":1,"size":50},
  "encoding":{
   "x":{"field":"x","type":"quantitative","scale":{"domain":[500,1100],"nice":false,"zero":false},"axis":{"title":"Wavelength (nm)","values":[500,600,700,800,900,1000,1100],"format":"d"}},
   "y":{"field":"y","type":"quantitative","scale":{"domain":[0,0.2],"nice":false},"axis":{"title":"SELF","values":[0,0.05,0.1,0.15,0.2],"format":".2f"}},
   "color":{"field":"s","type":"nominal","scale":{"range":["#000000","#000000","#ff0000","#ff0000","#0000ff","#0000ff","#22e022","#22e022"]},"legend":{"title":null,"legendX":4.5,"legendY":2.5,"labelFontSize":7,"symbolSize":28,"symbolStrokeWidth":1,"rowPadding":-2.5,"labelOffset":9,"labelExpr":"['0% Te -150°C','0% Te -200°C','5% Te -150°C','5% Te -200°C','10% Te -150°C','10% Te -200°C','15% Te -150°C','15% Te -200°C'][datum.value]","encode":{"symbols":{"update":{"fill":{"value":"white"},"shape":{"signal":"datum.value % 2 == 0 ? 'M-1,-1L1,-1L1,1L-1,1ZM-1,-0.75L1,-0.75M-1,-0.5L1,-0.5M-1,-0.25L1,-0.25M-1,0L1,0' : 'M-1,0A1,1,0,1,1,1,0A1,1,0,1,1,-1,0ZM-1,0L1,0M-0.97,-0.25L0.97,-0.25M-0.87,-0.5L0.87,-0.5M-0.66,-0.75L0.66,-0.75M-0.3,-0.95L0.3,-0.95'"}}}}}},
   "shape":{"field":"s","type":"nominal","scale":{"range":["M-1,-1L1,-1L1,1L-1,1ZM-1,-0.75L1,-0.75M-1,-0.5L1,-0.5M-1,-0.25L1,-0.25M-1,0L1,0","M-1,0A1,1,0,1,1,1,0A1,1,0,1,1,-1,0ZM-1,0L1,0M-0.97,-0.25L0.97,-0.25M-0.87,-0.5L0.87,-0.5M-0.66,-0.75L0.66,-0.75M-0.3,-0.95L0.3,-0.95","M-1,-1L1,-1L1,1L-1,1ZM-1,-0.75L1,-0.75M-1,-0.5L1,-0.5M-1,-0.25L1,-0.25M-1,0L1,0","M-1,0A1,1,0,1,1,1,0A1,1,0,1,1,-1,0ZM-1,0L1,0M-0.97,-0.25L0.97,-0.25M-0.87,-0.5L0.87,-0.5M-0.66,-0.75L0.66,-0.75M-0.3,-0.95L0.3,-0.95","M-1,-1L1,-1L1,1L-1,1ZM-1,-0.75L1,-0.75M-1,-0.5L1,-0.5M-1,-0.25L1,-0.25M-1,0L1,0","M-1,0A1,1,0,1,1,1,0A1,1,0,1,1,-1,0ZM-1,0L1,0M-0.97,-0.25L0.97,-0.25M-0.87,-0.5L0.87,-0.5M-0.66,-0.75L0.66,-0.75M-0.3,-0.95L0.3,-0.95","M-1,-1L1,-1L1,1L-1,1ZM-1,-0.75L1,-0.75M-1,-0.5L1,-0.5M-1,-0.25L1,-0.25M-1,0L1,0","M-1,0A1,1,0,1,1,1,0A1,1,0,1,1,-1,0ZM-1,0L1,0M-0.97,-0.25L0.97,-0.25M-0.87,-0.5L0.87,-0.5M-0.66,-0.75L0.66,-0.75M-0.3,-0.95L0.3,-0.95"]},"legend":null}
  }},
 {"data":{"values":[{"x":727,"y":0.181,"t":"(c)"}]},"mark":{"type":"text","font":"Liberation Serif","fontWeight":"bold","fontSize":20,"color":"#000"},
  "encoding":{"x":{"field":"x","type":"quantitative"},"y":{"field":"y","type":"quantitative"},"text":{"field":"t"}}}
 ]}
],"spacing":37,"bounds":"flush",
"resolve":{"scale":{"color":"independent","shape":"independent"},"legend":{"color":"independent","shape":"independent"}}}
]
}
